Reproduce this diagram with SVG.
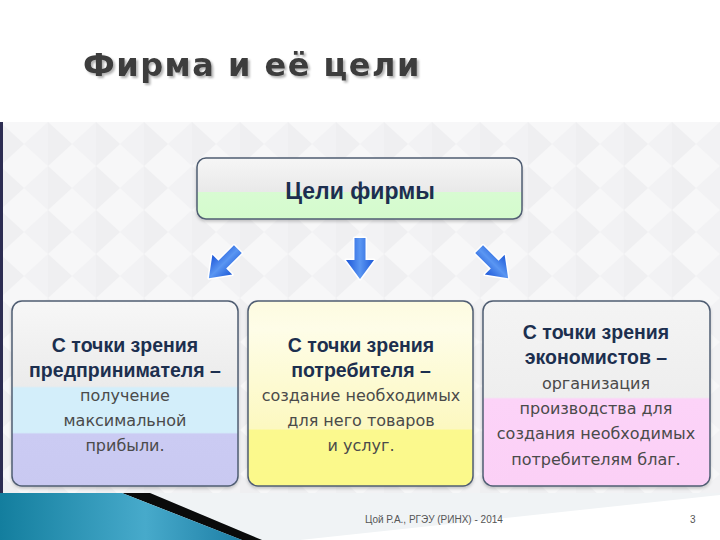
<svg xmlns="http://www.w3.org/2000/svg" width="720" height="540" viewBox="0 0 720 540">
<defs>
<style>
.bold{font-family:"Liberation Sans",Arial,sans-serif;font-weight:bold;font-size:19.5px;fill:#1c2f4f;text-anchor:middle}
.reg{font-family:"DejaVu Sans",Verdana,sans-serif;font-size:16px;fill:#4a4a4a;text-anchor:middle}
.box{stroke:#4f5d72;stroke-width:1.5}
</style>
<linearGradient id="gTop" x1="0" y1="0" x2="0" y2="1">
<stop offset="0" stop-color="#f6f6f6"/><stop offset="0.55" stop-color="#e9e9e9"/><stop offset="0.56" stop-color="#d8fbd2"/><stop offset="1" stop-color="#d4fbcd"/>
</linearGradient>
<linearGradient id="gL" x1="0" y1="0" x2="0" y2="1">
<stop offset="0" stop-color="#f7f7f7"/><stop offset="0.46" stop-color="#ebebeb"/><stop offset="0.47" stop-color="#d3eefa"/><stop offset="0.71" stop-color="#d3eefa"/><stop offset="0.72" stop-color="#cbcbf3"/><stop offset="1" stop-color="#c9c9f1"/>
</linearGradient>
<linearGradient id="gM" x1="0" y1="0" x2="0" y2="1">
<stop offset="0" stop-color="#fdfbe0"/><stop offset="0.15" stop-color="#fefde8"/><stop offset="0.69" stop-color="#fcf8c0"/><stop offset="0.70" stop-color="#fbf98e"/><stop offset="1" stop-color="#fbf98a"/>
</linearGradient>
<linearGradient id="gR" x1="0" y1="0" x2="0" y2="1">
<stop offset="0" stop-color="#f4f4f4"/><stop offset="0.52" stop-color="#eeeeee"/><stop offset="0.53" stop-color="#fcd3f8"/><stop offset="1" stop-color="#fbd0f6"/>
</linearGradient>
<linearGradient id="gArrow" x1="0" y1="0" x2="1" y2="0">
<stop offset="0" stop-color="#1b55d8"/><stop offset="0.5" stop-color="#5a96f2"/><stop offset="1" stop-color="#1e5ad8"/>
</linearGradient>
<linearGradient id="gFoot" x1="0" y1="0" x2="1" y2="0">
<stop offset="0" stop-color="#137e9e"/><stop offset="0.6" stop-color="#47aacb"/><stop offset="1" stop-color="#1e7fa6"/>
</linearGradient>
<pattern id="pat" x="0" y="122" width="48" height="44" patternUnits="userSpaceOnUse">
<rect width="48" height="44" fill="#f7f7f8"/>
<path d="M0 0 L24 22 L0 44 Z" fill="#efeff1"/>
<path d="M24 22 L48 0 L48 44 Z" fill="#f2f2f4"/>
</pattern>
<g id="arrow">
<path d="M-5.5 -21 L5.5 -21 L5.5 1 L14 1 L0 20 L-14 1 L-5.5 1 Z" fill="url(#gArrow)" stroke="#ffffff" stroke-width="3" stroke-linejoin="round" paint-order="stroke"/>
</g>
<filter id="sh" x="-10%" y="-10%" width="120%" height="130%">
<feDropShadow dx="0" dy="2" stdDeviation="1.5" flood-color="#000" flood-opacity="0.2"/>
</filter>
<filter id="tsh" x="-5%" y="-20%" width="110%" height="150%">
<feDropShadow dx="2" dy="2" stdDeviation="1" flood-color="#000" flood-opacity="0.3"/>
</filter>
</defs>
<rect width="720" height="540" fill="#ffffff"/>
<g id="title">
<text x="83" y="76" font-family="DejaVu Sans,Verdana,sans-serif" font-weight="bold" font-size="32" fill="#3c3c3c" letter-spacing="1.5" filter="url(#tsh)">Фирма и её цели</text>
</g>
<rect x="0" y="122" width="720" height="373" fill="url(#pat)"/>
<rect x="0" y="122" width="3" height="373" fill="#2d2d52"/>
<g id="top-node">
<rect x="197" y="158" width="325" height="61" rx="9" fill="url(#gTop)" class="box" filter="url(#sh)"/>
<text x="360" y="199" font-family="Liberation Sans,Arial,sans-serif" font-weight="bold" font-size="23" fill="#1c2f4f" text-anchor="middle">Цели фирмы</text>
</g>
<g id="connectors">
<use href="#arrow" transform="translate(223,264) rotate(45)"/>
<use href="#arrow" transform="translate(360,259)"/>
<use href="#arrow" transform="translate(494,264) rotate(-45)"/>
</g>
<g id="node-left">
<rect x="12" y="301" width="226" height="185" rx="10" fill="url(#gL)" class="box" filter="url(#sh)"/>
<text class="bold" x="125" y="352">С точки зрения</text>
<text class="bold" x="125" y="377">предпринимателя –</text>
<text class="reg" x="125" y="401">получение</text>
<text class="reg" x="125" y="426">максимальной</text>
<text class="reg" x="125" y="451">прибыли.</text>
</g>
<g id="node-middle">
<rect x="248" y="301" width="225" height="185" rx="10" fill="url(#gM)" class="box" filter="url(#sh)"/>
<text class="bold" x="361" y="352">С точки зрения</text>
<text class="bold" x="361" y="377">потребителя –</text>
<text class="reg" x="361" y="401">создание необходимых</text>
<text class="reg" x="361" y="426">для него товаров</text>
<text class="reg" x="361" y="451">и услуг.</text>
</g>
<g id="node-right">
<rect x="483" y="301" width="227" height="185" rx="10" fill="url(#gR)" class="box" filter="url(#sh)"/>
<text class="bold" x="596" y="339">С точки зрения</text>
<text class="bold" x="596" y="364">экономистов –</text>
<text class="reg" x="596" y="389">организация</text>
<text class="reg" x="596" y="414">производства для</text>
<text class="reg" x="596" y="439">создания необходимых</text>
<text class="reg" x="596" y="465">потребителям благ.</text>
</g>
<g id="footer">
<path d="M150 493 L720 493 L720 495 L300 540 L262 540 Z" fill="#f0f3f5"/>
<path d="M150 493 L262 540 L240 540 L168 510 Z" fill="#c9d6de"/>
<path d="M122 493 L150 493 L262 540 L242 540 Z" fill="#0a0a0a"/>
<path d="M0 493 L122 493 L242 540 L0 540 Z" fill="url(#gFoot)"/>
<text x="365" y="523" font-family="Liberation Sans,Arial,sans-serif" font-size="10" fill="#555">Цой Р.А., РГЭУ (РИНХ) - 2014</text>
<text x="690" y="523" font-family="Liberation Sans,Arial,sans-serif" font-size="10" fill="#555">3</text>
</g>
</svg>
